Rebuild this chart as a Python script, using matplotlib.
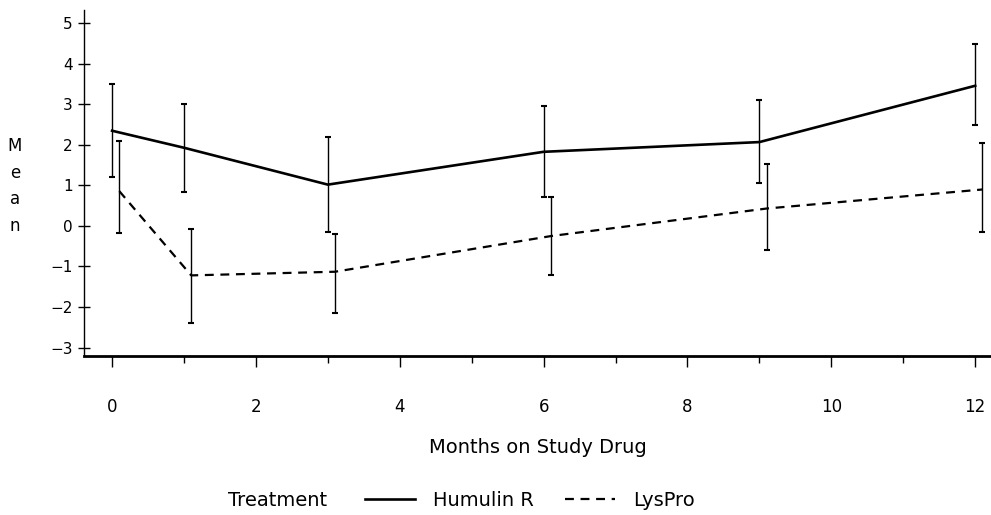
import numpy as np
import matplotlib
matplotlib.use('Agg')
import matplotlib.pyplot as plt
from matplotlib.ticker import MultipleLocator

'''DATA'''
months = [0, 1, 3, 6, 9, 12]

humulin_mean = [2.35, 1.93, 1.02, 1.83, 2.07, 3.46]
humulin_upper = [3.51, 3.02, 2.20, 2.95, 3.10, 4.48]
humulin_lower = [1.22, 0.83, -0.15, 0.71, 1.07, 2.49]

lyspro_mean = [0.86, -1.22, -1.13, -0.25, 0.43, 0.90]
lyspro_upper = [2.10, -0.07, -0.20, 0.71, 1.53, 2.05]
lyspro_lower = [-0.17, -2.39, -2.15, -1.22, -0.60, -0.15]

xtick_values = [0, 2, 4, 6, 8, 10, 12]
ytick_values = [-3, -2, -1, 0, 1, 2, 3, 4, 5]

'''PLOT GENERATION'''
plt.rcParams['font.family'] = ['DejaVu Sans']
fig = plt.figure(figsize=(9.91, 5.15), dpi=100)
ax = fig.add_axes([0.0848, 0.3087, 0.9152, 0.6719])

x_h = np.array(months, dtype=float)
x_l = x_h + 0.1

h_mean = np.array(humulin_mean)
l_mean = np.array(lyspro_mean)
h_err = [h_mean - np.array(humulin_lower), np.array(humulin_upper) - h_mean]
l_err = [l_mean - np.array(lyspro_lower), np.array(lyspro_upper) - l_mean]

ax.plot(x_h, h_mean, color='black', linewidth=1.9, linestyle='-', label='Humulin R')
ax.plot(x_l, l_mean, color='black', linewidth=1.6, linestyle=(0, (4, 3)), label='LysPro')
ax.errorbar(x_h, h_mean, yerr=h_err, fmt='none', ecolor='black', elinewidth=1, capsize=2, capthick=1.5)
ax.errorbar(x_l, l_mean, yerr=l_err, fmt='none', ecolor='black', elinewidth=1, capsize=2, capthick=1.5)

'''PLOT SETTINGS'''
ax.set_xlim(-0.39, 12.22)
ax.set_ylim(-3.21, 5.33)
ax.set_xticks(xtick_values)
ax.set_xticklabels([str(v) for v in xtick_values])
ax.xaxis.set_minor_locator(MultipleLocator(1))
ax.set_yticks(ytick_values)

ax.spines['top'].set_visible(False)
ax.spines['right'].set_visible(False)
ax.spines['bottom'].set_linewidth(2)
ax.spines['left'].set_linewidth(1)

ax.tick_params(axis='x', which='major', direction='out', length=8, width=1, labelsize=12, pad=22)
ax.tick_params(axis='x', which='minor', direction='out', length=5, width=1)
ax.tick_params(axis='y', which='major', direction='inout', length=8, width=1, labelsize=11, pad=4)

ax.set_xlabel('Months on Study Drug', fontsize=14, labelpad=16)
fig.text(0.015, 0.639, 'M\ne\na\nn', fontsize=12, ha='center', va='center', linespacing=1.6)

fig.text(0.230, 0.029, 'Treatment', fontsize=14, ha='left', va='center')
fig.legend(loc='center left', bbox_to_anchor=(0.368, 0.029), ncol=2, frameon=False,
           fontsize=14, handlelength=2.6, handletextpad=0.9, columnspacing=1.6,
           borderaxespad=0, borderpad=0)

fig.savefig('out.png', dpi=100)
plt.close()
